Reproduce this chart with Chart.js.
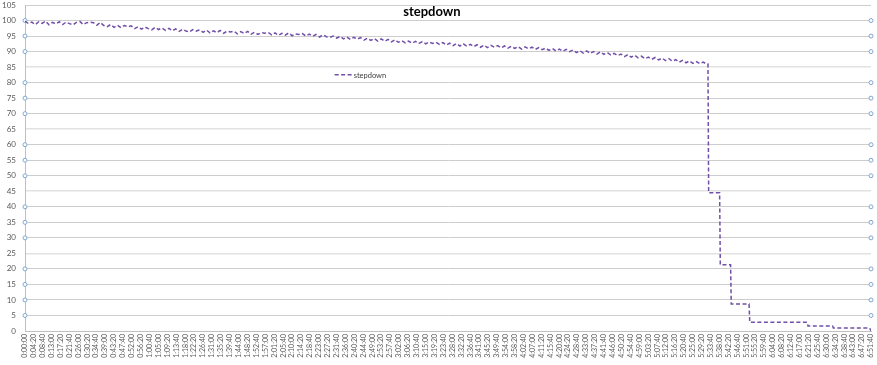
<!DOCTYPE html>
<html>
<head>
<meta charset="utf-8">
<script src="https://cdn.jsdelivr.net/npm/chart.js@4/dist/chart.umd.min.js"></script>
<style>
  html, body { margin: 0; padding: 0; background: #ffffff; }
  #wrap { width: 877px; height: 365px; }
</style>
</head>
<body>
<div id="wrap"><canvas id="c" width="877" height="365"></canvas></div>
<script>
// ---- data ----
const chartTitle = 'stepdown';
const seriesLabel = 'stepdown';
const sampleInterval = 100; // seconds between readings of the noisy part
const noisyValues = [
  99.8, 99.0, 99.5, 98.7, 99.6, 99.1, 99.8, 98.6, 99.4, 98.9,
  99.6, 98.7, 99.5, 99.0, 98.6, 99.4, 99.7, 98.7, 99.3, 99.5,
  99.3, 98.5, 99.4, 98.4, 98.0, 98.7, 97.8, 98.5, 97.7, 98.4,
  98.0, 98.3, 97.4, 98.0, 97.2, 97.9, 97.4, 97.0, 97.8, 97.1,
  97.6, 96.8, 97.5, 96.7, 97.3, 96.5, 97.2, 96.6, 96.3, 97.1,
  96.6, 97.0, 96.2, 96.9, 96.0, 96.7, 96.1, 96.8, 95.9, 96.6,
  96.3, 96.6, 95.7, 96.4, 95.8, 96.5, 95.6, 96.2, 95.5, 96.1,
  95.9, 96.2, 95.4, 96.0, 95.2, 95.9, 95.3, 96.0, 95.1, 95.7,
  95.5, 95.8, 95.0, 95.6, 94.9, 95.5, 94.7, 95.4, 94.8, 94.6,
  95.0, 94.3, 94.9, 94.1, 94.7, 93.9, 94.6, 94.0, 94.5, 93.7,
  94.3, 93.6, 94.2, 93.4, 94.1, 93.3, 93.9, 93.1, 93.8, 93.0,
  93.5, 92.8, 93.4, 92.7, 93.3, 92.6, 93.2, 92.5, 93.1, 92.6,
  93.0, 92.3, 92.9, 92.1, 92.7, 91.9, 92.6, 91.8, 92.5, 91.7,
  92.3, 91.6, 92.2, 91.4, 92.1, 91.3, 92.0, 91.4, 91.9, 91.2,
  91.8, 91.1, 91.7, 91.0, 91.6, 90.8, 91.5, 90.9, 91.4, 90.7,
  91.3, 90.6, 91.1, 90.4, 91.0, 90.2, 90.8, 90.1, 90.7, 90.0,
  90.5, 89.7, 90.3, 89.5, 90.2, 89.4, 90.0, 89.2, 89.9, 89.1,
  89.7, 88.9, 89.4, 88.7, 89.2, 88.4, 89.0, 88.2, 88.8, 88.0,
  88.5, 87.7, 88.2, 87.5, 88.1, 87.3, 87.9, 87.1, 87.7, 86.9,
  87.4, 86.6, 87.2, 86.4, 87.0, 86.2, 86.8, 86.1, 86.6, 86.0
];
const stepTimes  = [19940, 19960, 20280, 20300, 20600, 20620, 21140, 21160, 22840, 22860, 23580, 23600, 24660, 24700];
const stepValues = [86.0,  44.5,  44.5,  21.3,  21.3,  8.7,   8.7,   2.8,   2.8,   1.6,   1.6,   0.95,  0.95,  0];
const axisMaxSeconds = 24700;
const tickStepSeconds = 260;
const yTickValuesWithMarker = [100, 95, 90, 80, 75, 70, 60, 55, 50, 40, 35, 30, 20, 15, 10, 5];
const softGridValues = [85, 65, 45, 25];

// ---- build ----
const lineData = noisyValues.map((v, i) => ({ x: i * sampleInterval, y: v }))
  .concat(stepTimes.map((t, i) => ({ x: t, y: stepValues[i] })));
const markerData = [];
yTickValuesWithMarker.forEach(v => {
  markerData.push({ x: 0, y: v });
  markerData.push({ x: axisMaxSeconds, y: v });
});

function fmtTime(sec) {
  const h = Math.floor(sec / 3600);
  const m = Math.floor((sec % 3600) / 60);
  const s = Math.round(sec % 60);
  return h + ':' + String(m).padStart(2, '0') + ':' + String(s).padStart(2, '0');
}

const FONT = 'Lato, "Liberation Sans", sans-serif';

const overlayPlugin = {
  id: 'overlay',
  afterDraw(chart) {
    const ctx = chart.ctx;
    const a = chart.chartArea;
    ctx.save();
    // title
    ctx.fillStyle = '#000000';
    ctx.font = 'bold 13px ' + FONT;
    ctx.textAlign = 'center';
    ctx.textBaseline = 'middle';
    ctx.fillText(chartTitle, a.left + (a.right - a.left) * 0.481, 12);
    // legend
    const lx = a.left + (a.right - a.left) * 0.366;
    const ly = a.top + (a.bottom - a.top) * 0.214;
    const ds = chart.data.datasets[0];
    ctx.strokeStyle = ds.borderColor;
    ctx.lineWidth = ds.borderWidth;
    ctx.setLineDash(ds.borderDash);
    ctx.beginPath();
    ctx.moveTo(lx, ly);
    ctx.lineTo(lx + 18, ly);
    ctx.stroke();
    ctx.setLineDash([]);
    ctx.fillStyle = '#404040';
    ctx.font = '7.5px ' + FONT;
    ctx.textAlign = 'left';
    ctx.fillText(ds.label, lx + 19, ly + 0.5);
    ctx.restore();
  }
};

new Chart(document.getElementById('c'), {
  type: 'line',
  data: {
    datasets: [
      {
        label: seriesLabel,
        data: lineData,
        borderColor: '#7050a8',
        borderWidth: 1.5,
        borderDash: [4, 2.5],
        pointRadius: 0,
        tension: 0,
        fill: false
      },
      {
        label: 'markers',
        type: 'scatter',
        data: markerData,
        pointRadius: 2,
        pointStyle: 'circle',
        borderColor: '#7ea6d0',
        backgroundColor: '#ffffff',
        borderWidth: 1,
        clip: false
      }
    ]
  },
  options: {
    responsive: false,
    animation: false,
    layout: { padding: { top: 4, right: 6, left: 0, bottom: 0 } },
    plugins: {
      legend: { display: false },
      title: { display: false },
      tooltip: { enabled: false }
    },
    scales: {
      x: {
        type: 'linear',
        min: 0,
        max: axisMaxSeconds,
        grid: { display: false, drawTicks: false },
        border: { display: true, color: '#bfbfbf', width: 1 },
        ticks: {
          stepSize: tickStepSeconds,
          autoSkip: false,
          minRotation: 90,
          maxRotation: 90,
          padding: 3,
          color: '#595959',
          font: { family: FONT, size: 7 },
          callback: (v) => fmtTime(v)
        },
        afterFit: (s) => { s.height = 34; s.paddingLeft = 0; s.paddingRight = 0; s.paddingTop = 0; s.paddingBottom = 0; }
      },
      y: {
        min: 0,
        max: 105,
        grid: {
          drawTicks: false,
          color: (c) => (c.tick && softGridValues.includes(c.tick.value)) ? '#e2e2e2' : '#cdcdcd',
          lineWidth: (c) => (c.tick && softGridValues.includes(c.tick.value)) ? 1.6 : 1
        },
        border: { display: true, color: '#bfbfbf', width: 1 },
        ticks: {
          stepSize: 5,
          padding: 9,
          color: '#595959',
          font: { family: FONT, size: 8 }
        },
        afterFit: (s) => { s.width = 25; s.paddingTop = 0; s.paddingBottom = 0; s.paddingLeft = 0; s.paddingRight = 0; }
      }
    }
  },
  plugins: [overlayPlugin]
});
</script>
</body>
</html>
